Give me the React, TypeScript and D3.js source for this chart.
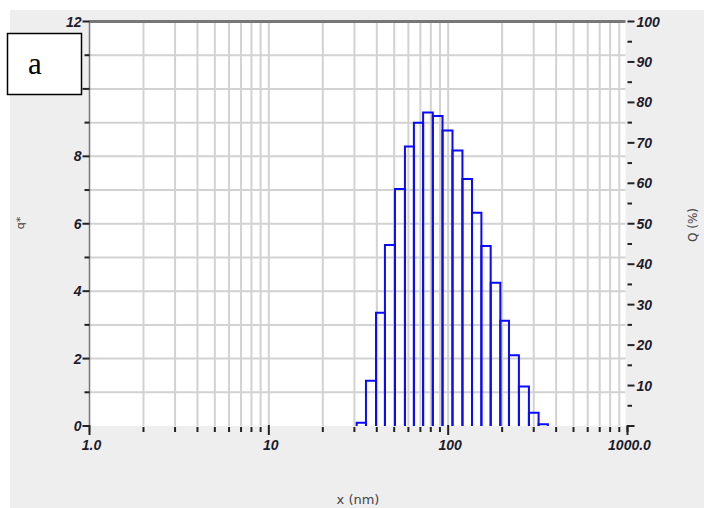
import React from "react";
import * as d3 from "d3";

// ---- data ----
const binEdges = [30.9, 34.8, 39.6, 44.4, 50.5, 57.4, 64.4, 72.5, 82.1, 93.0, 105.7, 120.1, 135.8, 153.2, 172.6, 195.4, 218.3, 248.0, 282.0, 319.3, 359.7];
const qValues = [0.1, 1.34, 3.36, 5.37, 7.03, 8.29, 9.0, 9.3, 9.2, 8.77, 8.17, 7.33, 6.33, 5.34, 4.25, 3.12, 2.1, 1.17, 0.39, 0.05];
const xTickValues = [1, 10, 100, 1000];
const xTickLabels = ["1.0", "10", "100", "1000.0"];
const leftTickValues = [0, 2, 4, 6, 8, 10, 12];
const rightTickValues = [10, 20, 30, 40, 50, 60, 70, 80, 90, 100];

const W = 704;
const H = 508;
const left = 89.5;
const right = 627.5;
const top = 21.5;
const bottom = 426;

export default function App() {
  const x = d3.scaleLog().domain([1, 1000]).range([left, right]);
  const yL = d3.scaleLinear().domain([0, 12]).range([bottom, top]);
  const yR = d3.scaleLinear().domain([0, 100]).range([bottom, top]);

  const logTicks = x.ticks(); // 1..9,10..90,100..1000
  const gridX = logTicks.filter((v) => v > 1 && v < 1000);
  const gridY = d3.range(1, 12);
  const minorLeft = d3.range(1, 12, 2);
  const minorRight = d3.range(5, 100, 10);

  const tickFont = {
    fontFamily: "'Liberation Sans', Arial, sans-serif",
    fontWeight: 700,
    fontStyle: "italic",
    fontSize: 14,
    fill: "#1c1c2c",
  } as const;
  const labelFont = {
    fontFamily: "'DejaVu Sans', sans-serif",
    fontSize: 13,
    fill: "#444",
  } as const;

  const bars = qValues.map((q, i) => {
    const x0 = x(binEdges[i]);
    const x1 = x(binEdges[i + 1]);
    const y0 = yL(0);
    const yt = yL(q);
    return `M${x0},${y0}V${yt}H${x1}V${y0}`;
  });

  return (
    <svg
      width={W}
      height={H}
      style={{ position: "absolute", left: 0, top: 0, display: "block" }}
    >
      <rect x={0} y={0} width={W} height={H} fill="#fff" />
      <rect x={10} y={10} width={W - 10} height={H - 10} fill="#eeeeee" />
      <rect x={left} y={top} width={right - 2 - left} height={bottom - top} fill="#fff" />

      {/* grid */}
      <g stroke="#d2d2d2" strokeWidth={2}>
        {gridX.map((v) => (
          <line key={"gx" + v} x1={x(v)} x2={x(v)} y1={top} y2={bottom} />
        ))}
        {gridY.map((v) => (
          <line key={"gy" + v} x1={left} x2={right - 2} y1={yL(v)} y2={yL(v)} />
        ))}
      </g>

      {/* top border */}
      <line x1={left} x2={right - 2} y1={top} y2={top} stroke="#777" strokeWidth={3} />
      {/* left axis */}
      <line x1={left} x2={left} y1={top - 1} y2={bottom + 6} stroke="#777" strokeWidth={1.5} />

      {/* histogram */}
      <g fill="none" stroke="#0a0aff" strokeWidth={2}>
        {bars.map((d, i) => (
          <path key={"b" + i} d={d} />
        ))}
      </g>

      {/* left ticks */}
      <g stroke="#222" strokeWidth={2}>
        {leftTickValues.map((v) => (
          <line key={"lt" + v} x1={left - 7} x2={left} y1={yL(v)} y2={yL(v)} />
        ))}
        {minorLeft.map((v) => (
          <line key={"lm" + v} x1={left - 5} x2={left} y1={yL(v)} y2={yL(v)} />
        ))}
      </g>
      {leftTickValues.map((v) => (
        <text key={"ll" + v} x={left - 8} y={yL(v)} dy="0.36em" textAnchor="end" style={tickFont}>
          {v}
        </text>
      ))}

      {/* right ticks */}
      <g stroke="#222" strokeWidth={2}>
        {[0, ...rightTickValues].map((v) => (
          <line key={"rt" + v} x1={right} x2={right + 7} y1={yR(v)} y2={yR(v)} />
        ))}
        {minorRight.map((v) => (
          <line key={"rm" + v} x1={right} x2={right + 4.5} y1={yR(v)} y2={yR(v)} />
        ))}
        <line x1={right} x2={right} y1={bottom} y2={bottom + 6} />
      </g>
      {rightTickValues.map((v) => (
        <text key={"rl" + v} x={right + 9} y={yR(v)} dy="0.36em" textAnchor="start" style={tickFont}>
          {v}
        </text>
      ))}

      {/* bottom ticks */}
      <g stroke="#222" strokeWidth={2}>
        {logTicks.map((v) => {
          const major = xTickValues.includes(v);
          return (
            <line
              key={"bt" + v}
              x1={x(v)}
              x2={x(v)}
              y1={major ? bottom - 1 : bottom + 1}
              y2={major ? bottom + 9 : bottom + 6}
            />
          );
        })}
      </g>
      {xTickValues.map((v, i) => (
        <text key={"bl" + v} x={x(v) + 2} y={bottom + 24} textAnchor="middle" style={tickFont}>
          {xTickLabels[i]}
        </text>
      ))}

      {/* axis titles */}
      <text x={358} y={504} textAnchor="middle" style={labelFont}>
        x (nm)
      </text>
      <text
        transform="translate(24,223) rotate(-90)"
        textAnchor="middle"
        style={{ ...labelFont, fontSize: 11 }}
      >
        q*
      </text>
      <text
        transform="translate(697,225) rotate(-90)"
        textAnchor="middle"
        style={{ ...labelFont, fontSize: 12 }}
      >
        Q (%)
      </text>

      {/* panel label */}
      <rect x={7.5} y={33.5} width={74} height={61} fill="#fff" stroke="#000" strokeWidth={1.5} />
      <text
        x={35}
        y={74}
        textAnchor="middle"
        style={{ fontFamily: "'Liberation Serif', 'Times New Roman', serif", fontSize: 31, fill: "#000" }}
      >
        a
      </text>
    </svg>
  );
}
